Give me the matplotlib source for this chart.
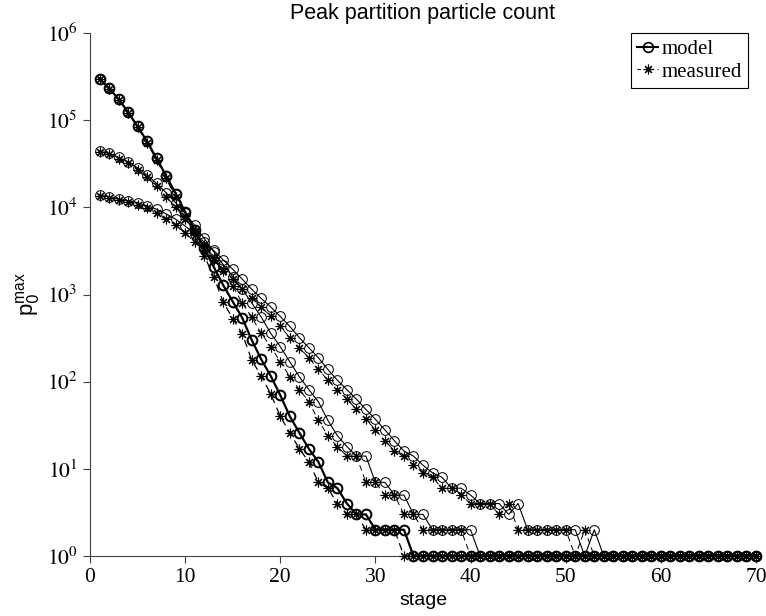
import matplotlib
matplotlib.use("Agg")
import matplotlib.pyplot as plt
import numpy as np
from matplotlib.lines import Line2D

stages = list(range(1, 71))

model_a = [3.0e5, 2.34e5, 1.74e5, 1.24e5, 8.5e4, 5.7e4, 3.64e4, 2.3e4, 1.44e4, 8.9e3,
           5.5e3, 3.4e3, 2.08e3, 1.28e3, 830, 540, 300, 180, 116, 70,
           40, 26, 17, 12, 7, 6, 4, 3, 3, 2,
           2, 2, 2, 1, 1, 1, 1, 1, 1, 1,
           1, 1, 1, 1, 1, 1, 1, 1, 1, 1,
           1, 1, 1, 1, 1, 1, 1, 1, 1, 1,
           1, 1, 1, 1, 1, 1, 1, 1, 1, 1]
meas_a = [2.95e5, 2.3e5, 1.72e5, 1.22e5, 8.3e4, 5.5e4, 3.5e4, 2.15e4, 1.32e4, 7.9e3,
          4.8e3, 2.8e3, 1.6e3, 820, 530, 355, 177, 116, 72, 40,
          26, 17, 12, 7, 6, 4, 3, 3, 2, 2,
          2, 2, 1, 1, 1, 1, 1, 1, 1, 1,
          1, 1, 1, 1, 1, 1, 1, 1, 1, 1,
          1, 1, 1, 1, 1, 1, 1, 1, 1, 1,
          1, 1, 1, 1, 1, 1, 1, 1, 1, 1]
model_b = [4.4e4, 4.15e4, 3.73e4, 3.33e4, 2.84e4, 2.34e4, 1.88e4, 1.47e4, 1.13e4, 8.5e3,
           6.2e3, 4.4e3, 3.1e3, 2.2e3, 1.6e3, 1.15e3, 800, 550, 358, 252,
           169, 114, 81, 59, 36, 24, 18, 14, 14, 7,
           7, 5, 5, 3, 3, 2, 2, 2, 2, 2,
           1, 1, 1, 1, 1, 1, 1, 1, 1, 1,
           1, 1, 1, 1, 1, 1, 1, 1, 1, 1,
           1, 1, 1, 1, 1, 1, 1, 1, 1, 1]
meas_b = [4.35e4, 4.05e4, 3.6e4, 3.2e4, 2.7e4, 2.2e4, 1.75e4, 1.33e4, 1.0e4, 7.4e3,
          5.3e3, 3.7e3, 2.6e3, 1.85e3, 1.25e3, 800, 550, 358, 252, 169,
          114, 81, 59, 36, 24, 18, 14, 14, 7, 7,
          5, 5, 3, 3, 2, 2, 2, 2, 2, 1,
          1, 1, 1, 1, 1, 1, 1, 1, 1, 1,
          1, 1, 1, 1, 1, 1, 1, 1, 1, 1,
          1, 1, 1, 1, 1, 1, 1, 1, 1, 1]
model_c = [1.38e4, 1.32e4, 1.24e4, 1.19e4, 1.13e4, 1.04e4, 9.5e3, 8.4e3, 7.3e3, 6.1e3,
           5.0e3, 4.0e3, 3.2e3, 2.5e3, 1.95e3, 1.5e3, 1.15e3, 900, 720, 560,
           430, 320, 245, 188, 138, 104, 81, 63, 48, 37,
           28, 21, 16, 14, 11, 9, 8, 6, 6, 5,
           4, 4, 4, 3, 4, 2, 2, 2, 2, 2,
           2, 1, 2, 1, 1, 1, 1, 1, 1, 1,
           1, 1, 1, 1, 1, 1, 1, 1, 1, 1]
meas_c = [1.35e4, 1.28e4, 1.2e4, 1.14e4, 1.07e4, 9.7e3, 8.6e3, 7.4e3, 6.2e3, 5.1e3,
          4.0e3, 3.2e3, 2.5e3, 1.95e3, 1.5e3, 1.15e3, 900, 720, 560, 430,
          320, 245, 188, 138, 104, 81, 63, 48, 37, 28,
          21, 16, 14, 11, 9, 8, 6, 6, 5, 4,
          4, 4, 3, 4, 2, 2, 2, 2, 2, 2,
          1, 2, 1, 1, 1, 1, 1, 1, 1, 1,
          1, 1, 1, 1, 1, 1, 1, 1, 1, 1]

x_ticks = [0, 10, 20, 30, 40, 50, 60, 70]
y_ticks = [1e0, 1e1, 1e2, 1e3, 1e4, 1e5, 1e6]
y_tick_labels = [r"$10^{0}$", r"$10^{1}$", r"$10^{2}$", r"$10^{3}$", r"$10^{4}$", r"$10^{5}$", r"$10^{6}$"]

plt.rcParams["mathtext.fontset"] = "stix"
plt.rcParams["font.family"] = ["Liberation Serif", "DejaVu Serif"]

fig = plt.figure(figsize=(7.66, 6.16), dpi=100)
ax = fig.add_axes([90 / 766, 1 - 556 / 616, (756 - 90) / 766, (556 - 33) / 616])

ast = (8, 2, 0)
dash = (6, 4)

# measured (dashed, asterisks)
for vals, lw in [(meas_a, 0.9), (meas_b, 0.7), (meas_c, 0.7)]:
    ax.plot(stages, vals, color="black", lw=lw, linestyle=(0, dash), marker=ast,
            markersize=7, markeredgewidth=0.8, clip_on=False, zorder=3)
# model (solid, circles)
for vals, lw in [(model_a, 1.6), (model_b, 0.8), (model_c, 0.8)]:
    ax.plot(stages, vals, color="black", lw=lw, linestyle="-", marker="o",
            markerfacecolor="none", markersize=7, markeredgewidth=lw * 0.9,
            clip_on=False, zorder=4)

ax.set_yscale("log")
ax.set_xlim(0, 70)
ax.set_ylim(1, 1e6)
ax.set_xticks(x_ticks)
ax.set_xticklabels([str(t) for t in x_ticks])
ax.set_yticks(y_ticks)
ax.set_yticklabels(y_tick_labels)
ax.yaxis.set_minor_locator(matplotlib.ticker.NullLocator())
ax.tick_params(axis="both", which="major", direction="out", length=5, width=0.8,
               labelsize=15.5, color="#444444", pad=4)
for s in ["top", "right"]:
    ax.spines[s].set_visible(False)
for s in ["left", "bottom"]:
    ax.spines[s].set_color("#444444")
    ax.spines[s].set_linewidth(0.8)

ax.set_title("Peak partition particle count", fontsize=15.5,
             family=["Liberation Sans", "DejaVu Sans"], pad=10)
ax.set_xlabel("stage", fontsize=14, family=["Liberation Sans", "DejaVu Sans"], labelpad=3)
yl = ax.set_ylabel(r"$\mathregular{p}_0^{\mathregular{max}}$", fontsize=16,
                   family=["Liberation Sans", "DejaVu Sans"], labelpad=3)
yl.set_math_fontfamily("dejavusans")

handles = [
    Line2D([], [], color="black", lw=1.5, marker="o", markerfacecolor="none",
           markersize=7, markeredgewidth=1.2),
    Line2D([], [], color="black", lw=0.8, linestyle=(0, (3, 3)), marker=ast,
           markersize=7, markeredgewidth=0.8),
]
leg = ax.legend(handles, ["model", "measured"], loc="upper right",
                bbox_to_anchor=(0.988, 1.0), fontsize=15, frameon=True,
                fancybox=False, edgecolor="black", framealpha=1,
                handlelength=1.0, handletextpad=0.15, borderpad=0.3,
                labelspacing=0.15, borderaxespad=0.0)
leg.get_frame().set_linewidth(0.8)

fig.savefig("out.png", dpi=100)
